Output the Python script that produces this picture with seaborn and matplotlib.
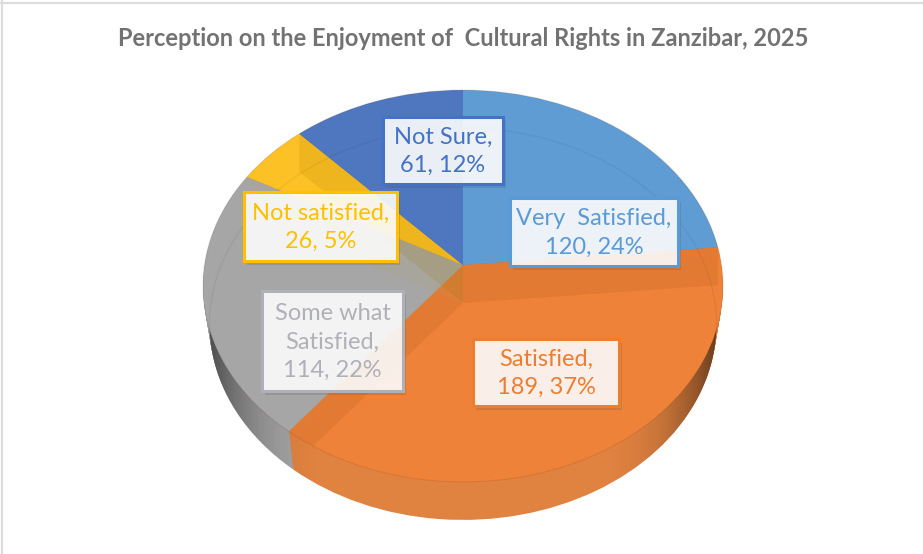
import numpy as np
import matplotlib
matplotlib.use('Agg')
import matplotlib.pyplot as plt
import matplotlib.patheffects as pe
import matplotlib.transforms as mtrans
from matplotlib.patches import Circle, Polygon, Rectangle
import seaborn as sns

title = 'Perception on the Enjoyment of  Cultural Rights in Zanzibar, 2025'
categories = ['Very  Satisfied', 'Satisfied', 'Some what\nSatisfied', 'Not satisfied', 'Not Sure']
counts = [120, 189, 114, 26, 61]
hexcolors = ['#5F9CD4', '#EE8239', '#A6A6A6', '#FBC125', '#4E77BF']
linecolors = ['#5B9BD5', '#ED7D31', '#B0B0B8', '#FFC000', '#4472C4']
rimcolors = ['#4F86B8', '#E08240', '#A3A3A3', '#D9A820', '#3F64A8']
walltints = ['#A0500F', '#A0500F', '#B5A060', '#A07000', '#2F4F90']

# label boxes, in picture pixels: left, top, right, bottom
boxes = [(510, 198, 678, 266), (473, 339, 619, 406), (262, 291, 403, 391),
         (244, 192, 397, 261), (383, 117, 503, 184)]

CX, CY = 463, 265       # where the slices meet
RX, RY = 258.5, 193.7
TILT = 0.107            # perspective, back of the pie is further away
DEPTH = 38
SHRINK = 0.025          # bottom face is a bit narrower than the top

sns.set_theme(style='white')
plt.rcParams['font.family'] = ['Lato', 'DejaVu Sans']


class PieView(mtrans.Transform):
    # unit circle of the pie -> picture pixels, tilted back
    input_dims = 2
    output_dims = 2

    def __init__(self, drop=0):
        super().__init__()
        self.drop = drop

    def transform_non_affine(self, xy):
        xy = np.asarray(xy, dtype=float)
        w = 1 + TILT * xy[:, 1]
        sx = RX * (1 - SHRINK * self.drop / DEPTH)
        return np.column_stack((CX + sx * xy[:, 0] / w, CY - RY * xy[:, 1] / w + self.drop))


def draw_pie(ax, colors, drop, zorder):
    wedges, _ = ax.pie(counts, colors=colors, startangle=90, counterclock=False,
                       wedgeprops=dict(linewidth=0))
    for w in wedges:
        w.set_transform(PieView(drop) + ax.transData)
        w.set_zorder(zorder)
    return wedges


fig = plt.figure(figsize=(9.23, 5.54), dpi=100)
ax = fig.add_axes([0, 0, 1, 1])

# side of the pie, stacked up from the bottom face
for drop in range(DEPTH, 0, -1):
    draw_pie(ax, sns.color_palette(rimcolors), drop, 1)

# shading of the side towards left and right
xx = np.linspace(-1, 1, 300)
shade = np.zeros((1, 300, 4))
shade[0, :, 3] = 0.62 * np.clip((np.abs(xx) - 0.5) / 0.5, 0, 1) ** 2.5
tt = np.linspace(0, np.pi, 120)
lower = PieView(DEPTH).transform(np.column_stack((np.cos(tt), -np.sin(tt))))
side = np.sqrt(1 - TILT ** 2)
upper = PieView(0).transform(np.array([[-side, -TILT], [side, -TILT]]))
im = ax.imshow(shade, extent=(CX - 262, CX + 262, 560, 0), aspect='auto', zorder=2)
im.set_clip_path(Polygon(np.vstack((upper[1], lower, upper[0])), transform=ax.transData))

# top face
draw_pie(ax, sns.color_palette(hexcolors), 0, 3)
topface = Circle((0, 0), 1, transform=PieView(0) + ax.transData)

# the inside walls show faintly through the top face
share = np.cumsum(counts) / np.sum(counts)
for frac, tint in zip(share[:-1], walltints):
    ang = 2 * np.pi * frac
    rim = np.array([np.sin(ang), np.cos(ang)])
    p0, p1 = PieView(0).transform(np.array([[0, 0], rim]))
    wall = np.array([p0, p1, p1 + [0, DEPTH], p0 + [0, DEPTH]])
    wp = Polygon(wall, closed=True, fc=tint, ec='none', alpha=0.14, zorder=4)
    ax.add_patch(wp)
    wp.set_clip_path(topface)

back = Circle((0, 0), 1, fc='none', ec='black', lw=1, alpha=0.05, zorder=4,
              transform=PieView(DEPTH) + ax.transData)
ax.add_patch(back)
back.set_clip_path(topface)
ax.add_patch(Circle((0, 0), 1, fc='none', ec='#703010', lw=0.8, alpha=0.13, zorder=4,
                    transform=PieView(0) + ax.transData))

# labels
total = np.sum(counts)
for cat, n, box, col in zip(categories, counts, boxes, linecolors):
    x0, y0, x1, y1 = box
    ax.add_patch(Rectangle((x0, y0), x1 - x0, y1 - y0, fc=(1, 1, 1, 0.89), ec=col, lw=2.2, zorder=5,
                           path_effects=[pe.SimplePatchShadow(offset=(2, -3), alpha=0.18), pe.Normal()]))
    ax.text((x0 + x1) / 2, (y0 + y1) / 2 + 1, f'{cat},\n{n}, {n / total * 100:.0f}%', color=col,
            fontsize=17, ha='center', va='center', linespacing=1.42, zorder=6)

ax.text(463, 39, title, color='#727272', fontsize=17, fontweight='bold',
        ha='center', va='center', zorder=6)

# frame of the original chart area, only top and left are in the crop
ax.axhline(3, color='#DDDDDD', lw=1.6, zorder=0)
ax.axvline(2, color='#DDDDDD', lw=1.6, zorder=0)

ax.set_aspect('auto')
ax.set_xlim(0, 923)
ax.set_ylim(554, 0)
ax.axis('off')

fig.savefig('out.png', dpi=100, facecolor='white')
